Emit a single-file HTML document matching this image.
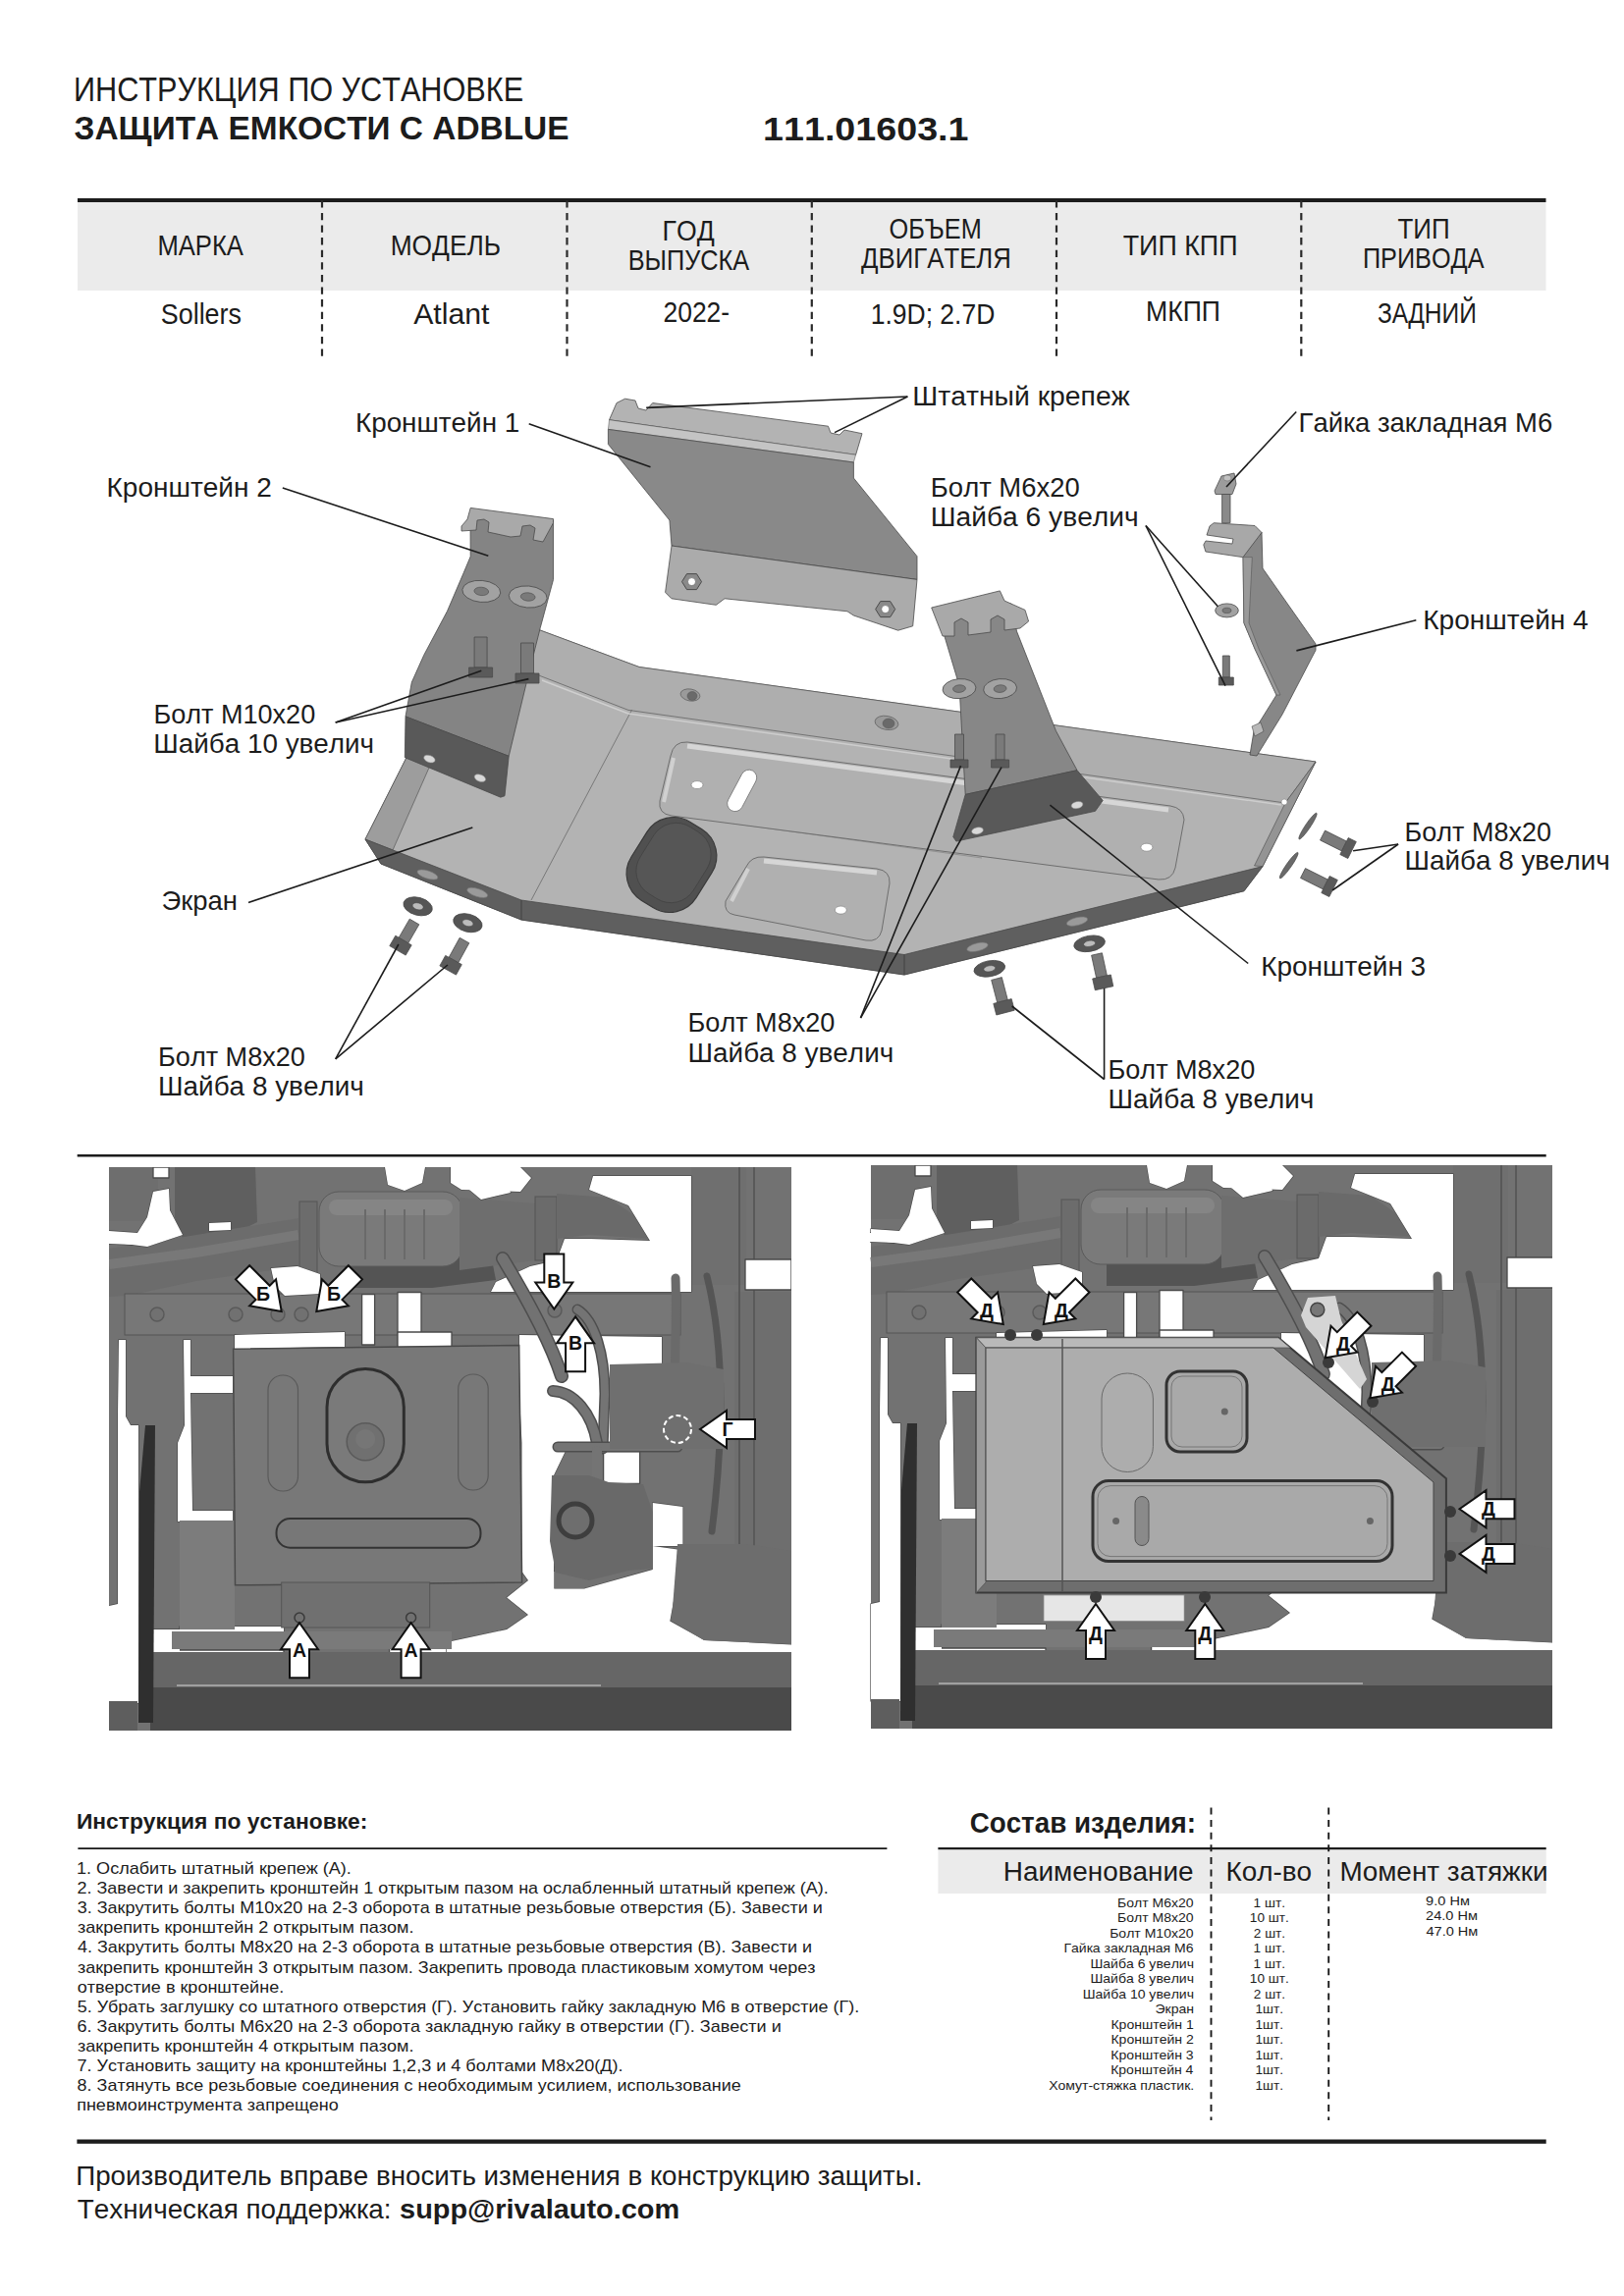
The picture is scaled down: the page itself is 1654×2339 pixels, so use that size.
<!DOCTYPE html>
<html><head><meta charset="utf-8"><style>
html,body{margin:0;padding:0;background:#fff;width:1654px;height:2339px;overflow:hidden;}
svg{display:block;font-family:"Liberation Sans",sans-serif;font-kerning:none;}
</style></head><body>
<svg width="1654" height="2339" viewBox="0 0 1654 2339">
<rect width="1654" height="2339" fill="#fff"/>
<text transform="translate(74.98,103.40) scale(0.8640,1.0)" font-size="35.5" fill="#1c1c1c">ИНСТРУКЦИЯ ПО УСТАНОВКЕ</text>
<text transform="translate(75.55,142.20) scale(0.9949,1.0)" font-size="33.6" font-weight="bold" fill="#1c1c1c">ЗАЩИТА ЕМКОСТИ С ADBLUE</text>
<text transform="translate(777.03,143.20) scale(1.1314,1.0)" font-size="33.3" font-weight="bold" fill="#1c1c1c">111.01603.1</text>
<rect x="79" y="205.5" width="1495.5" height="90.5" fill="#ebebeb"/>
<rect x="79" y="202" width="1495.5" height="4" fill="#1c1c1c"/>
<line x1="328" y1="204.3" x2="328" y2="363.5" stroke="#2a2a2a" stroke-width="2.2" stroke-dasharray="7.3,5.3"/>
<line x1="577.5" y1="204.3" x2="577.5" y2="363.5" stroke="#2a2a2a" stroke-width="2.2" stroke-dasharray="7.3,5.3"/>
<line x1="826.8" y1="204.3" x2="826.8" y2="363.5" stroke="#2a2a2a" stroke-width="2.2" stroke-dasharray="7.3,5.3"/>
<line x1="1076" y1="204.3" x2="1076" y2="363.5" stroke="#2a2a2a" stroke-width="2.2" stroke-dasharray="7.3,5.3"/>
<line x1="1325.3" y1="204.3" x2="1325.3" y2="363.5" stroke="#2a2a2a" stroke-width="2.2" stroke-dasharray="7.3,5.3"/>
<text transform="translate(160.40,260.20) scale(0.8837,1.0)" font-size="29" fill="#1c1c1c">МАРКА</text>
<text transform="translate(397.64,260.20) scale(0.9092,1.0)" font-size="29" fill="#1c1c1c">МОДЕЛЬ</text>
<text transform="translate(674.62,244.90) scale(0.9166,1.0)" font-size="29" fill="#1c1c1c">ГОД</text>
<text transform="translate(639.72,275.00) scale(0.8732,1.0)" font-size="29" fill="#1c1c1c">ВЫПУСКА</text>
<text transform="translate(905.60,242.70) scale(0.8716,1.0)" font-size="29" fill="#1c1c1c">ОБЪЕМ</text>
<text transform="translate(877.11,272.60) scale(0.8888,1.0)" font-size="29" fill="#1c1c1c">ДВИГАТЕЛЯ</text>
<text transform="translate(1143.70,259.80) scale(0.9269,1.0)" font-size="29" fill="#1c1c1c">ТИП КПП</text>
<text transform="translate(1423.52,242.70) scale(0.8945,1.0)" font-size="29" fill="#1c1c1c">ТИП</text>
<text transform="translate(1387.95,272.60) scale(0.8709,1.0)" font-size="29" fill="#1c1c1c">ПРИВОДА</text>
<text transform="translate(163.78,330.40) scale(0.9272,1.0)" font-size="29" fill="#1c1c1c">Sollers</text>
<text transform="translate(421.14,329.50) scale(1.0435,1.0)" font-size="29" fill="#1c1c1c">Atlant</text>
<text transform="translate(675.47,327.60) scale(0.9129,1.0)" font-size="29" fill="#1c1c1c">2022-</text>
<text transform="translate(886.68,329.50) scale(0.9139,1.0)" font-size="29" fill="#1c1c1c">1.9D; 2.7D</text>
<text transform="translate(1167.02,327.00) scale(0.9185,1.0)" font-size="29" fill="#1c1c1c">МКПП</text>
<text transform="translate(1403.00,328.90) scale(0.8471,1.0)" font-size="29" fill="#1c1c1c">ЗАДНИЙ</text>
<polygon points="480,612 550,642 651,679.5 1340,776 1286,882.6 1267,907.7 921,993 531,937 388,880 372,855 430,740" fill="#b3b3b3" stroke="#4a4a4a" stroke-width="0.8" stroke-linejoin="round"/>
<polygon points="480,612 550,642 651,679.5 1340,776 1309,818 640,723.4 550,688.5 480,660" fill="#aeaeae" stroke="#4a4a4a" stroke-width="0.6" stroke-linejoin="round"/>
<polygon points="372,855 430,740 452,748 400,866" fill="#9d9d9d" stroke="#4a4a4a" stroke-width="0.6" stroke-linejoin="round"/>
<polygon points="1340,776 1286,882.6 1277.5,882 1309,818" fill="#949494" stroke="#4a4a4a" stroke-width="0.6" stroke-linejoin="round"/>
<polygon points="372,855 531,917 921,972.5 1286,882.6 1267,907.7 921,993 531,937 388,880" fill="#5f5f5f" stroke="#4a4a4a" stroke-width="0.8" stroke-linejoin="round"/>
<line x1="531" y1="917" x2="531" y2="937" stroke="#3a3a3a" stroke-width="0.8"/>
<line x1="921" y1="972.5" x2="921" y2="993" stroke="#3a3a3a" stroke-width="0.8"/>
<line x1="643.6" y1="723" x2="541" y2="917" stroke="#6a6a6a" stroke-width="0.8"/>
<line x1="734" y1="837" x2="1000" y2="874" stroke="#7a7a7a" stroke-width="0.6"/>
<line x1="552" y1="693" x2="640" y2="727" stroke="#cfcfcf" stroke-width="1.5"/>
<line x1="640" y1="727" x2="1305" y2="820" stroke="#cdcdcd" stroke-width="1.5"/>
<path d="M700,756 L1192,821 Q1205,823 1206,835 L1197,884 Q1194,897 1180,896 L684,831 Q670,829 672,816 L683,770 Q686,755 700,756 Z" fill="#b0b0b0" stroke="#6e6e6e" stroke-width="1"/>
<path d="M700,760 L1190,825" stroke="#d6d6d6" stroke-width="5" fill="none"/>
<path d="M676,817 L686,772" stroke="#d0d0d0" stroke-width="4" fill="none"/>
<rect x="-23" y="-8" width="46" height="16" rx="8" fill="#fff" stroke="#777" stroke-width="0.8" transform="translate(755.7,805.4) rotate(-62)"/>
<ellipse cx="710" cy="799.6" rx="6" ry="4" fill="#fff" stroke="#777" stroke-width="0.6" transform="rotate(0,710,799.6)"/>
<ellipse cx="1167.9" cy="863.2" rx="6" ry="4" fill="#fff" stroke="#777" stroke-width="0.6" transform="rotate(0,1167.9,863.2)"/>
<ellipse cx="1308" cy="817" rx="3" ry="3" fill="#fff" stroke="#777" stroke-width="0.5" transform="rotate(0,1308,817)"/>
<path d="M778,873 L893,885 Q907,887 906,900 L898,948 Q895,960 882,958 L748,932 Q737,930 739,918 L760,883 Q765,872 778,873 Z" fill="#b0b0b0" stroke="#6e6e6e" stroke-width="1"/>
<path d="M778,877 L893,889" stroke="#d6d6d6" stroke-width="5" fill="none"/>
<path d="M745,918 L762,885" stroke="#d0d0d0" stroke-width="4" fill="none"/>
<ellipse cx="856.3" cy="927.1" rx="6" ry="4" fill="#fff" stroke="#777" stroke-width="0.6" transform="rotate(0,856.3,927.1)"/>
<ellipse cx="703" cy="708" rx="10" ry="6" fill="#9a9a9a" stroke="#666" stroke-width="0.8" transform="rotate(10,703,708)"/>
<ellipse cx="705" cy="709" rx="5" ry="4.5" fill="#6a6a6a" stroke="#555" stroke-width="0.5" transform="rotate(0,705,709)"/>
<ellipse cx="903" cy="736.4" rx="12" ry="7" fill="#9a9a9a" stroke="#666" stroke-width="0.8" transform="rotate(10,903,736.4)"/>
<ellipse cx="905" cy="737" rx="6" ry="5" fill="#6a6a6a" stroke="#555" stroke-width="0.5" transform="rotate(0,905,737)"/>
<rect x="-39" y="-47" width="78" height="94" rx="32" fill="#505050" stroke="#3a3a3a" stroke-width="1.2" transform="translate(684,881) rotate(32)"/>
<rect x="-32" y="-40" width="64" height="80" rx="27" fill="#565656" stroke="#444" stroke-width="0.8" transform="translate(686,879) rotate(32)"/>
<ellipse cx="435.4" cy="891" rx="11" ry="4" fill="#9a9a9a" stroke="#777" stroke-width="0.6" transform="rotate(18,435.4,891)"/>
<ellipse cx="486.2" cy="909.4" rx="11" ry="4" fill="#9a9a9a" stroke="#777" stroke-width="0.6" transform="rotate(18,486.2,909.4)"/>
<ellipse cx="995.5" cy="964.8" rx="11" ry="4" fill="#9a9a9a" stroke="#777" stroke-width="0.6" transform="rotate(-14,995.5,964.8)"/>
<ellipse cx="1097" cy="938.7" rx="11" ry="4" fill="#9a9a9a" stroke="#777" stroke-width="0.6" transform="rotate(-14,1097,938.7)"/>
<polygon points="479,526 563.5,530 563.5,590.6 550.3,639.4 536.3,695.1 518.2,770.3 413,729.9 419.3,695.1 431.8,667.2 455.5,622.6 472.2,583.6 479.2,566.9" fill="#848484" stroke="#4a4a4a" stroke-width="0.8" stroke-linejoin="round"/>
<polygon points="413,729.9 518.2,770.3 514,810.8 509.8,812.2 412.3,771.7" fill="#595959" stroke="#4a4a4a" stroke-width="0.8" stroke-linejoin="round"/>
<polygon points="479.2,517.4 563.5,528.6 563.5,532.7 553,552 543,550 545,538 540,535 532,536 530,546 520,547 497,542 498,532 493,529 486,530 485,540 470,541 470,536 476,529" fill="#a9a9a9" stroke="#4a4a4a" stroke-width="0.8" stroke-linejoin="round"/>
<ellipse cx="437.4" cy="773.1" rx="6" ry="3.5" fill="#d8d8d8" stroke="#888" stroke-width="0.5" transform="rotate(20,437.4,773.1)"/>
<ellipse cx="488.9" cy="792.6" rx="6" ry="3.5" fill="#d8d8d8" stroke="#888" stroke-width="0.5" transform="rotate(20,488.9,792.6)"/>
<ellipse cx="490.3" cy="602.4" rx="19.5" ry="11" fill="#a2a2a2" stroke="#4a4a4a" stroke-width="0.8" transform="rotate(5,490.3,602.4)"/>
<ellipse cx="490.3" cy="602.4" rx="7.41" ry="4.18" fill="#7a7a7a" stroke="#4a4a4a" stroke-width="0.6" transform="rotate(5,490.3,602.4)"/>
<ellipse cx="537.7" cy="608" rx="19.5" ry="11" fill="#a2a2a2" stroke="#4a4a4a" stroke-width="0.8" transform="rotate(5,537.7,608)"/>
<ellipse cx="537.7" cy="608" rx="7.41" ry="4.18" fill="#7a7a7a" stroke="#4a4a4a" stroke-width="0.6" transform="rotate(5,537.7,608)"/>
<polygon points="483.1,649.0 483.1,680.0 496.1,680.0 496.1,649.0" fill="#7a7a7a" stroke="#4a4a4a" stroke-width="0.8" stroke-linejoin="round"/>
<polygon points="477.6,680.0 477.6,690.0 501.6,690.0 501.6,680.0" fill="#5a5a5a" stroke="#4a4a4a" stroke-width="0.8" stroke-linejoin="round"/>
<polygon points="530.5,655.0 530.5,686.0 543.5,686.0 543.5,655.0" fill="#7a7a7a" stroke="#4a4a4a" stroke-width="0.8" stroke-linejoin="round"/>
<polygon points="525.0,686.0 525.0,696.0 549.0,696.0 549.0,686.0" fill="#5a5a5a" stroke="#4a4a4a" stroke-width="0.8" stroke-linejoin="round"/>
<polygon points="955,625 1030,615 1035.5,643.1 1075.5,744.7 1097,784.7 983.2,809.4 977,698.5" fill="#878787" stroke="#4a4a4a" stroke-width="0.8" stroke-linejoin="round"/>
<polygon points="983.2,809.4 1097,784.7 1123.2,815.5 1115.5,826.3 973.9,857.1 970.8,852.5" fill="#595959" stroke="#4a4a4a" stroke-width="0.8" stroke-linejoin="round"/>
<polygon points="948.7,619 1018.4,601.9 1023,612 1044,621.4 1047.6,633 1039,640 1023,642 1023,631 1016,627 1009,631 1009,644 986,647 986,634 979,630 972,634 972,648 960,648" fill="#a9a9a9" stroke="#4a4a4a" stroke-width="0.8" stroke-linejoin="round"/>
<ellipse cx="995.5" cy="846.3" rx="6" ry="3.5" fill="#d8d8d8" stroke="#888" stroke-width="0.5" transform="rotate(-12,995.5,846.3)"/>
<ellipse cx="1097" cy="820.1" rx="6" ry="3.5" fill="#d8d8d8" stroke="#888" stroke-width="0.5" transform="rotate(-12,1097,820.1)"/>
<ellipse cx="977" cy="701.6" rx="17" ry="10" fill="#a2a2a2" stroke="#4a4a4a" stroke-width="0.8" transform="rotate(-5,977,701.6)"/>
<ellipse cx="977" cy="701.6" rx="6.46" ry="3.8" fill="#7a7a7a" stroke="#4a4a4a" stroke-width="0.6" transform="rotate(-5,977,701.6)"/>
<ellipse cx="1018.6" cy="701.6" rx="17" ry="10" fill="#a2a2a2" stroke="#4a4a4a" stroke-width="0.8" transform="rotate(-5,1018.6,701.6)"/>
<ellipse cx="1018.6" cy="701.6" rx="6.46" ry="3.8" fill="#7a7a7a" stroke="#4a4a4a" stroke-width="0.6" transform="rotate(-5,1018.6,701.6)"/>
<polygon points="972.5,748.0 972.5,774.0 981.5,774.0 981.5,748.0" fill="#7a7a7a" stroke="#4a4a4a" stroke-width="0.8" stroke-linejoin="round"/>
<polygon points="968.0,774.0 968.0,782.0 986.0,782.0 986.0,774.0" fill="#5a5a5a" stroke="#4a4a4a" stroke-width="0.8" stroke-linejoin="round"/>
<polygon points="1014.1,748.0 1014.1,774.0 1023.1,774.0 1023.1,748.0" fill="#7a7a7a" stroke="#4a4a4a" stroke-width="0.8" stroke-linejoin="round"/>
<polygon points="1009.6,774.0 1009.6,782.0 1027.6,782.0 1027.6,774.0" fill="#5a5a5a" stroke="#4a4a4a" stroke-width="0.8" stroke-linejoin="round"/>
<polygon points="628,410.5 636.6,406.2 647,408 650,416 658,418 664.7,410.5 843.5,434.2 846,441 855,443 860,438 878,441.7 871.6,463.3 620.5,427.7" fill="#b3b3b3" stroke="#4a4a4a" stroke-width="0.8" stroke-linejoin="round"/>
<polygon points="620.5,427.7 871.6,463.3 869.4,471 619.4,437.4" fill="#c4c4c4" stroke="#4a4a4a" stroke-width="0.5" stroke-linejoin="round"/>
<polygon points="619.4,437.4 869.4,471 869.4,487 934,566.7 934,590.4 684,556 681.9,530 619.4,452.5" fill="#898989" stroke="#4a4a4a" stroke-width="0.8" stroke-linejoin="round"/>
<polygon points="684,556 934,590.4 929.7,637.8 914.7,642.2 869.4,627 863,622.8 738,609.8 729.3,616.3 684,609.8 677.6,603.4" fill="#ababab" stroke="#4a4a4a" stroke-width="0.8" stroke-linejoin="round"/>
<polygon points="694.5,592.6 699.5,584.6 709.5,584.6 714.5,592.6 709.5,600.6 699.5,600.6" fill="#8a8a8a" stroke="#4a4a4a" stroke-width="1"/>
<ellipse cx="704.5" cy="592.6" rx="4" ry="4" fill="#fff" stroke="#555" stroke-width="0.6" transform="rotate(0,704.5,592.6)"/>
<polygon points="891.7,620.6 896.7,612.6 906.7,612.6 911.7,620.6 906.7,628.6 896.7,628.6" fill="#8a8a8a" stroke="#4a4a4a" stroke-width="1"/>
<ellipse cx="901.7" cy="620.6" rx="4" ry="4" fill="#fff" stroke="#555" stroke-width="0.6" transform="rotate(0,901.7,620.6)"/>
<polygon points="1236.2,532.7 1278,535.5 1285,542.5 1275.3,567.6 1265.5,567.6 1227.9,562 1225.8,555 1228,551 1255,554 1256,549 1229,545 1232,536" fill="#a8a8a8" stroke="#4a4a4a" stroke-width="0.8" stroke-linejoin="round"/>
<polygon points="1266,567.6 1285,542.5 1286,579 1340,656 1340,662.3 1306,727.8 1280,770 1273,769 1277,745 1300,708 1278,661 1266.9,634.5" fill="#878787" stroke="#4a4a4a" stroke-width="0.8" stroke-linejoin="round"/>
<polygon points="1266,567.6 1275.3,567.6 1272,634.5 1282,661 1304,708 1300,708 1278,661 1266.9,634.5" fill="#9a9a9a" stroke="#4a4a4a" stroke-width="0.5" stroke-linejoin="round"/>
<polygon points="1275,740 1284,736 1287,745 1278,750" fill="#b8b8b8" stroke="#4a4a4a" stroke-width="0.6" stroke-linejoin="round"/>
<polygon points="1244.6,503.5 1253,503.5 1253,532.7 1244.6,532.7" fill="#8a8a8a" stroke="#4a4a4a" stroke-width="0.8" stroke-linejoin="round"/>
<polygon points="1237,500 1244,485 1257,482 1259,493 1255,503.5 1238,503.5" fill="#9c9c9c" stroke="#4a4a4a" stroke-width="0.8" stroke-linejoin="round"/>
<ellipse cx="1250" cy="487" rx="4" ry="3" fill="#c0c0c0" stroke="#666" stroke-width="0.5" transform="rotate(0,1250,487)"/>
<ellipse cx="1249.5" cy="621.9" rx="11.8" ry="7" fill="#a2a2a2" stroke="#4a4a4a" stroke-width="0.8" transform="rotate(0,1249.5,621.9)"/>
<ellipse cx="1249.5" cy="621.9" rx="4.484" ry="2.66" fill="#7a7a7a" stroke="#4a4a4a" stroke-width="0.6" transform="rotate(0,1249.5,621.9)"/>
<polygon points="1245.3,668.0 1245.3,690.0 1252.3,690.0 1252.3,668.0" fill="#7a7a7a" stroke="#4a4a4a" stroke-width="0.8" stroke-linejoin="round"/>
<polygon points="1241.3,690.0 1241.3,698.0 1256.3,698.0 1256.3,690.0" fill="#5a5a5a" stroke="#4a4a4a" stroke-width="0.8" stroke-linejoin="round"/>
<ellipse cx="425.6" cy="923.3" rx="15" ry="9" fill="#555" stroke="#4a4a4a" stroke-width="0.8" transform="rotate(15,425.6,923.3)"/>
<ellipse cx="425.6" cy="923.3" rx="5.7" ry="3.42" fill="#bbb" stroke="#4a4a4a" stroke-width="0.6" transform="rotate(15,425.6,923.3)"/>
<ellipse cx="476.4" cy="940.2" rx="15" ry="9" fill="#555" stroke="#4a4a4a" stroke-width="0.8" transform="rotate(15,476.4,940.2)"/>
<ellipse cx="476.4" cy="940.2" rx="5.7" ry="3.42" fill="#bbb" stroke="#4a4a4a" stroke-width="0.6" transform="rotate(15,476.4,940.2)"/>
<polygon points="417.2,936.2 406.2,955.2 415.8,960.8 426.8,941.8" fill="#7a7a7a" stroke="#4a4a4a" stroke-width="0.8" stroke-linejoin="round"/>
<polygon points="402.8,953.2 396.8,963.6 413.2,973.1 419.2,962.8" fill="#5a5a5a" stroke="#4a4a4a" stroke-width="0.8" stroke-linejoin="round"/>
<polygon points="468.2,955.3 457.2,975.3 466.8,980.7 477.8,960.7" fill="#7a7a7a" stroke="#4a4a4a" stroke-width="0.8" stroke-linejoin="round"/>
<polygon points="453.7,973.4 447.9,983.9 464.5,993.1 470.3,982.6" fill="#5a5a5a" stroke="#4a4a4a" stroke-width="0.8" stroke-linejoin="round"/>
<ellipse cx="1007.8" cy="986.8" rx="16" ry="8" fill="#555" stroke="#4a4a4a" stroke-width="0.8" transform="rotate(-10,1007.8,986.8)"/>
<ellipse cx="1007.8" cy="986.8" rx="6.08" ry="3.04" fill="#bbb" stroke="#4a4a4a" stroke-width="0.6" transform="rotate(-10,1007.8,986.8)"/>
<ellipse cx="1109.6" cy="961.3" rx="16" ry="8" fill="#555" stroke="#4a4a4a" stroke-width="0.8" transform="rotate(-10,1109.6,961.3)"/>
<ellipse cx="1109.6" cy="961.3" rx="6.08" ry="3.04" fill="#bbb" stroke="#4a4a4a" stroke-width="0.6" transform="rotate(-10,1109.6,961.3)"/>
<polygon points="1009.7,998.4 1015.7,1021.4 1026.3,1018.6 1020.3,995.6" fill="#7a7a7a" stroke="#4a4a4a" stroke-width="0.8" stroke-linejoin="round"/>
<polygon points="1011.8,1022.4 1014.8,1034.0 1033.2,1029.2 1030.2,1017.6" fill="#5a5a5a" stroke="#4a4a4a" stroke-width="0.8" stroke-linejoin="round"/>
<polygon points="1111.6,973.2 1116.6,996.2 1127.4,993.8 1122.4,970.8" fill="#7a7a7a" stroke="#4a4a4a" stroke-width="0.8" stroke-linejoin="round"/>
<polygon points="1112.7,997.0 1115.3,1008.7 1133.8,1004.7 1131.3,993.0" fill="#5a5a5a" stroke="#4a4a4a" stroke-width="0.8" stroke-linejoin="round"/>
<ellipse cx="1332" cy="841.6" rx="16" ry="2.6" fill="#6a6a6a" stroke="#444" stroke-width="0.6" transform="rotate(-56,1332,841.6)"/>
<ellipse cx="1312.7" cy="881.6" rx="16" ry="2.6" fill="#6a6a6a" stroke="#444" stroke-width="0.6" transform="rotate(-55,1312.7,881.6)"/>
<polygon points="1344.5,855.9 1366.5,866.9 1371.5,857.1 1349.5,846.1" fill="#7a7a7a" stroke="#4a4a4a" stroke-width="0.8" stroke-linejoin="round"/>
<polygon points="1364.8,870.5 1372.8,874.5 1381.3,857.5 1373.2,853.5" fill="#5a5a5a" stroke="#4a4a4a" stroke-width="0.8" stroke-linejoin="round"/>
<polygon points="1324.5,894.4 1347.5,905.9 1352.5,896.1 1329.5,884.6" fill="#7a7a7a" stroke="#4a4a4a" stroke-width="0.8" stroke-linejoin="round"/>
<polygon points="1345.8,909.5 1353.8,913.5 1362.3,896.5 1354.2,892.5" fill="#5a5a5a" stroke="#4a4a4a" stroke-width="0.8" stroke-linejoin="round"/>
<line x1="924.4" y1="404" x2="658.2" y2="415.4" stroke="#1c1c1c" stroke-width="1.6"/>
<line x1="924.4" y1="404" x2="850" y2="440.6" stroke="#1c1c1c" stroke-width="1.6"/>
<line x1="538.7" y1="431.7" x2="662.5" y2="475.8" stroke="#1c1c1c" stroke-width="1.6"/>
<line x1="287.8" y1="497" x2="497.3" y2="566.2" stroke="#1c1c1c" stroke-width="1.6"/>
<line x1="1320.2" y1="419.5" x2="1249" y2="496" stroke="#1c1c1c" stroke-width="1.6"/>
<line x1="1167" y1="535.5" x2="1240.4" y2="617.7" stroke="#1c1c1c" stroke-width="1.6"/>
<line x1="1167" y1="535.5" x2="1248" y2="698.6" stroke="#1c1c1c" stroke-width="1.6"/>
<line x1="1442.3" y1="631.8" x2="1320.4" y2="662.9" stroke="#1c1c1c" stroke-width="1.6"/>
<line x1="341.7" y1="736" x2="490.3" y2="683.3" stroke="#1c1c1c" stroke-width="1.6"/>
<line x1="341.7" y1="736" x2="538.4" y2="691.6" stroke="#1c1c1c" stroke-width="1.6"/>
<line x1="1424.1" y1="860" x2="1378.1" y2="866.7" stroke="#1c1c1c" stroke-width="1.6"/>
<line x1="1424.1" y1="860" x2="1357" y2="907" stroke="#1c1c1c" stroke-width="1.6"/>
<line x1="253" y1="919.4" x2="481.3" y2="843.1" stroke="#1c1c1c" stroke-width="1.6"/>
<line x1="1271.2" y1="981.5" x2="1069.4" y2="820.1" stroke="#1c1c1c" stroke-width="1.6"/>
<line x1="876.5" y1="1037" x2="978.5" y2="780.1" stroke="#1c1c1c" stroke-width="1.6"/>
<line x1="876.5" y1="1037" x2="1020" y2="781.6" stroke="#1c1c1c" stroke-width="1.6"/>
<line x1="341.7" y1="1078.9" x2="405.9" y2="962" stroke="#1c1c1c" stroke-width="1.6"/>
<line x1="341.7" y1="1078.9" x2="455.9" y2="983" stroke="#1c1c1c" stroke-width="1.6"/>
<line x1="1124.6" y1="1099.5" x2="1124.6" y2="1006.7" stroke="#1c1c1c" stroke-width="1.6"/>
<line x1="1124.6" y1="1099.5" x2="1030.7" y2="1025" stroke="#1c1c1c" stroke-width="1.6"/>
<text transform="translate(929.27,412.50) scale(1.0127,1.0)" font-size="28" fill="#1c1c1c">Штатный крепеж</text>
<text transform="translate(361.91,440.30) scale(0.9953,1.0)" font-size="28" fill="#1c1c1c">Кронштейн 1</text>
<text transform="translate(1322.55,440.40) scale(0.9811,1.0)" font-size="28" fill="#1c1c1c">Гайка закладная М6</text>
<text transform="translate(108.50,505.60) scale(1.0010,1.0)" font-size="28" fill="#1c1c1c">Кронштейн 2</text>
<text transform="translate(947.85,506.30) scale(0.9806,1.0)" font-size="28" fill="#1c1c1c">Болт М6х20</text>
<text transform="translate(947.79,535.50) scale(1.0059,1.0)" font-size="28" fill="#1c1c1c">Шайба 6 увелич</text>
<text transform="translate(1449.20,640.50) scale(1.0017,1.0)" font-size="28" fill="#1c1c1c">Кронштейн 4</text>
<text transform="translate(156.38,736.50) scale(0.9670,1.0)" font-size="28" fill="#1c1c1c">Болт М10х20</text>
<text transform="translate(156.32,766.80) scale(0.9939,1.0)" font-size="28" fill="#1c1c1c">Шайба 10 увелич</text>
<text transform="translate(1430.59,856.70) scale(0.9641,1.0)" font-size="28" fill="#1c1c1c">Болт М8х20</text>
<text transform="translate(1430.52,886.00) scale(0.9943,1.0)" font-size="28" fill="#1c1c1c">Шайба 8 увелич</text>
<text transform="translate(164.49,926.60) scale(0.9814,1.0)" font-size="28" fill="#1c1c1c">Экран</text>
<text transform="translate(1284.21,994.30) scale(0.9988,1.0)" font-size="28" fill="#1c1c1c">Кронштейн 3</text>
<text transform="translate(700.58,1051.20) scale(0.9674,1.0)" font-size="28" fill="#1c1c1c">Болт М8х20</text>
<text transform="translate(700.51,1081.50) scale(0.9958,1.0)" font-size="28" fill="#1c1c1c">Шайба 8 увелич</text>
<text transform="translate(161.08,1086.10) scale(0.9674,1.0)" font-size="28" fill="#1c1c1c">Болт М8х20</text>
<text transform="translate(161.01,1115.90) scale(0.9962,1.0)" font-size="28" fill="#1c1c1c">Шайба 8 увелич</text>
<text transform="translate(1128.58,1099.00) scale(0.9667,1.0)" font-size="28" fill="#1c1c1c">Болт М8х20</text>
<text transform="translate(1128.51,1129.30) scale(0.9967,1.0)" font-size="28" fill="#1c1c1c">Шайба 8 увелич</text>
<rect x="78.7" y="1176" width="1496" height="2.5" fill="#1c1c1c"/>
<defs><clipPath id="c1"><rect x="111" y="1189" width="695" height="578"/></clipPath><clipPath id="c2"><rect x="886" y="1187" width="695" height="578"/></clipPath><g id="pbg"><rect x="111" y="1189" width="695" height="574" fill="#727272"/>
<rect x="111" y="1189" width="50" height="55" fill="#6e6e6e"/>
<polygon points="178,1189 260,1189 262,1245 240,1256 186,1262 178,1240" fill="#5f5f5f"/>
<polygon points="111,1272 200,1258 304,1241 304,1290 200,1305 130,1320 111,1321" fill="#6c6c6c"/>
<path d="M111,1288 L200,1276 L304,1258" stroke="#787878" stroke-width="10" fill="none"/>
<polygon points="351,1282 500,1278 505,1304 440,1312 351,1312" fill="#545454"/>
<rect x="305" y="1224" width="18" height="74" fill="#6c6c6c" stroke="#555" stroke-width="1"/>
<rect x="325" y="1214" width="146" height="76" rx="20" fill="#7a7a7a" stroke="#5a5a5a" stroke-width="1"/>
<rect x="335" y="1222" width="126" height="16" rx="8" fill="#858585"/>
<line x1="372" y1="1232" x2="372" y2="1283" stroke="#6a6a6a" stroke-width="2"/>
<line x1="392" y1="1232" x2="392" y2="1283" stroke="#6a6a6a" stroke-width="2"/>
<line x1="412" y1="1232" x2="412" y2="1283" stroke="#6a6a6a" stroke-width="2"/>
<line x1="432" y1="1232" x2="432" y2="1283" stroke="#6a6a6a" stroke-width="2"/>
<polygon points="468,1220 545,1226 545,1284 468,1294" fill="#6e6e6e"/>
<rect x="545" y="1219" width="22" height="65" fill="#6b6b6b" stroke="#555" stroke-width="1"/>
<polygon points="567,1216 620,1220 660,1248 662,1262 600,1258 567,1262" fill="#6a6a6a"/>
<rect x="127" y="1318" width="566" height="42" fill="#777777" stroke="#555" stroke-width="1"/>
<circle cx="160" cy="1339" r="7" fill="#717171" stroke="#5a5a5a" stroke-width="1.5"/>
<circle cx="240" cy="1339" r="7" fill="#717171" stroke="#5a5a5a" stroke-width="1.5"/>
<circle cx="283" cy="1339" r="7" fill="#717171" stroke="#5a5a5a" stroke-width="1.5"/>
<circle cx="307" cy="1339" r="7" fill="#717171" stroke="#5a5a5a" stroke-width="1.5"/>
<circle cx="413" cy="1339" r="7" fill="#717171" stroke="#5a5a5a" stroke-width="1.5"/>
<circle cx="565" cy="1335" r="7" fill="#717171" stroke="#5a5a5a" stroke-width="1.5"/>
<rect x="704" y="1189" width="56" height="120" fill="#6f6f6f"/>
<rect x="748" y="1316" width="58" height="360" fill="#6e6e6e"/>
<line x1="753" y1="1189" x2="753" y2="1675" stroke="#585858" stroke-width="2"/>
<line x1="768" y1="1189" x2="768" y2="1675" stroke="#5a5a5a" stroke-width="2"/>
<polygon points="111,1254 140,1256 150,1240 156,1214 172,1211 173,1233 186,1258 150,1270 111,1265" fill="#ffffff" stroke="#4a4a4a" stroke-width="1.3" stroke-linejoin="round"/>
<rect x="156" y="1189" width="16" height="11" fill="#ffffff" stroke="#4a4a4a" stroke-width="1.3" stroke-linejoin="round"/>
<polygon points="392,1189 433,1189 430,1205 412,1213 395,1207" fill="#ffffff" stroke="#4a4a4a" stroke-width="1.3" stroke-linejoin="round"/>
<polygon points="276,1292 303,1290 326,1298 326,1318 290,1320 280,1310" fill="#ffffff" stroke="#4a4a4a" stroke-width="1.3" stroke-linejoin="round"/>
<polygon points="213,1246 235,1245 235,1253 213,1254" fill="#ffffff" stroke="#4a4a4a" stroke-width="1.3" stroke-linejoin="round"/>
<polygon points="239,1360 351,1357 351,1372 239,1374" fill="#ffffff" stroke="#4a4a4a" stroke-width="1.3" stroke-linejoin="round"/>
<rect x="368.6" y="1318.6" width="13" height="51.4" fill="#ffffff" stroke="#4a4a4a" stroke-width="1.3" stroke-linejoin="round"/>
<rect x="405" y="1316.5" width="24" height="56" fill="#ffffff" stroke="#4a4a4a" stroke-width="1.3" stroke-linejoin="round"/>
<rect x="405" y="1357" width="55" height="15.5" fill="#ffffff" stroke="#4a4a4a" stroke-width="1.3" stroke-linejoin="round"/>
<polygon points="121,1365 128,1365 128,1443 133,1452 141,1452 141,1735 111,1735 111,1636 120,1634 120,1443" fill="#ffffff" stroke="#4a4a4a" stroke-width="1.3" stroke-linejoin="round"/>
<polygon points="187,1365 194,1365 194,1402 237,1402 237,1419 194,1419 196,1539 237,1539 237,1549 181,1550 181,1470 188,1452" fill="#ffffff" stroke="#4a4a4a" stroke-width="1.3" stroke-linejoin="round"/>
<polygon points="155,1660 183,1660 183,1657 289,1657 289,1664 183,1664 183,1683 155,1683" fill="#ffffff" stroke="#4a4a4a" stroke-width="1.3" stroke-linejoin="round"/>
<rect x="155" y="1681" width="134" height="5" fill="#ffffff" stroke="#4a4a4a" stroke-width="1.3" stroke-linejoin="round"/>
<rect x="396.6" y="1679" width="63.4" height="6.5" fill="#ffffff" stroke="#4a4a4a" stroke-width="1.3" stroke-linejoin="round"/>
<polygon points="478,1192 510,1192 520,1215 490,1222 478,1212" fill="#ffffff" stroke="#4a4a4a" stroke-width="1.3" stroke-linejoin="round"/>
<polygon points="505,1306 540,1290 567,1284 575,1262 600,1262 662,1264 640,1228 600,1212 604,1198 704,1198 704,1316 500,1316" fill="#ffffff" stroke="#4a4a4a" stroke-width="1.3" stroke-linejoin="round"/>
<polygon points="459,1189 530,1189 541,1200 530,1214 470,1212 459,1205" fill="#ffffff" stroke="#4a4a4a" stroke-width="1.3" stroke-linejoin="round"/>
<polygon points="110,1258 136,1258 136,1268 110,1267" fill="#ffffff" stroke="#4a4a4a" stroke-width="1.3" stroke-linejoin="round"/>
<rect x="759" y="1283" width="47" height="31" fill="#ffffff" stroke="#4a4a4a" stroke-width="1.3" stroke-linejoin="round"/>
<polygon points="529,1360 674,1362 674,1395 621,1403 621,1476 577,1476 564,1503 564,1601 531.5,1601 531.5,1470 529,1420" fill="#ffffff" stroke="#4a4a4a" stroke-width="1.3" stroke-linejoin="round"/>
<rect x="614.6" y="1478.7" width="37" height="32.8" fill="#ffffff" stroke="#4a4a4a" stroke-width="1.3" stroke-linejoin="round"/>
<polygon points="664.8,1531 695.4,1535 695.4,1575 664.8,1575" fill="#ffffff" stroke="#4a4a4a" stroke-width="1.3" stroke-linejoin="round"/>
<polygon points="531.5,1601 564.3,1601 564.3,1618.6 595,1618.6 664.8,1599 664.8,1575 695.4,1579.3 682.3,1651.4 717.3,1671 806,1675.5 806,1683 455,1683 455,1673 516.2,1660 538,1645 516.2,1627.4 538,1610" fill="#ffffff" stroke="#4a4a4a" stroke-width="1.3" stroke-linejoin="round"/>
<polygon points="111,1254 140,1256 150,1240 156,1214 172,1211 173,1233 186,1258 150,1270 111,1265" fill="#ffffff"/>
<polygon points="392,1189 433,1189 430,1205 412,1213 395,1207" fill="#ffffff"/>
<polygon points="276,1292 303,1290 326,1298 326,1318 290,1320 280,1310" fill="#ffffff"/>
<polygon points="213,1246 235,1245 235,1253 213,1254" fill="#ffffff"/>
<polygon points="239,1360 351,1357 351,1372 239,1374" fill="#ffffff"/>
<polygon points="121,1365 128,1365 128,1443 133,1452 141,1452 141,1735 111,1735 111,1636 120,1634 120,1443" fill="#ffffff"/>
<polygon points="187,1365 194,1365 194,1402 237,1402 237,1419 194,1419 196,1539 237,1539 237,1549 181,1550 181,1470 188,1452" fill="#ffffff"/>
<polygon points="155,1660 183,1660 183,1657 289,1657 289,1664 183,1664 183,1683 155,1683" fill="#ffffff"/>
<polygon points="478,1192 510,1192 520,1215 490,1222 478,1212" fill="#ffffff"/>
<polygon points="505,1306 540,1290 567,1284 575,1262 600,1262 662,1264 640,1228 600,1212 604,1198 704,1198 704,1316 500,1316" fill="#ffffff"/>
<polygon points="459,1189 530,1189 541,1200 530,1214 470,1212 459,1205" fill="#ffffff"/>
<polygon points="110,1258 136,1258 136,1268 110,1267" fill="#ffffff"/>
<polygon points="529,1360 674,1362 674,1395 621,1403 621,1476 577,1476 564,1503 564,1601 531.5,1601 531.5,1470 529,1420" fill="#ffffff"/>
<polygon points="664.8,1531 695.4,1535 695.4,1575 664.8,1575" fill="#ffffff"/>
<polygon points="531.5,1601 564.3,1601 564.3,1618.6 595,1618.6 664.8,1599 664.8,1575 695.4,1579.3 682.3,1651.4 717.3,1671 806,1675.5 806,1683 455,1683 455,1673 516.2,1660 538,1645 516.2,1627.4 538,1610" fill="#ffffff"/>
<path d="M512,1282 C535,1320 560,1365 572,1402" stroke="#4e4e4e" stroke-width="14" fill="none" stroke-linecap="round"/>
<path d="M512,1282 C535,1320 560,1365 572,1402" stroke="#727272" stroke-width="11" fill="none" stroke-linecap="round"/>
<path d="M588,1334 C606,1345 616,1380 616,1420 L614,1476" stroke="#4e4e4e" stroke-width="11" fill="none" stroke-linecap="round"/>
<path d="M588,1334 C606,1345 616,1380 616,1420 L614,1476" stroke="#747474" stroke-width="8" fill="none" stroke-linecap="round"/>
<path d="M563,1417 C585,1418 603,1440 608,1470" stroke="#4e4e4e" stroke-width="12" fill="none" stroke-linecap="round"/>
<path d="M563,1417 C585,1418 603,1440 608,1470" stroke="#747474" stroke-width="9" fill="none" stroke-linecap="round"/>
<path d="M568,1474 L690,1474" stroke="#4e4e4e" stroke-width="11" fill="none" stroke-linecap="round"/>
<path d="M568,1474 L690,1474" stroke="#747474" stroke-width="8" fill="none" stroke-linecap="round"/>
<path d="M608,1478 L608,1506" stroke="#747474" stroke-width="10" fill="none" stroke-linecap="round"/>
<path d="M688,1302 C690,1360 684,1420 690,1470" stroke="#6a6a6a" stroke-width="9" fill="none" stroke-linecap="round"/>
<path d="M720,1300 C740,1380 735,1480 725,1560" stroke="#555" stroke-width="7" fill="none" stroke-linecap="round"/>
<polygon points="621,1390 700,1388 737,1395 737,1476 621,1476" fill="#6f6f6f"/>
<polygon points="562,1503 600,1503 620,1510 655,1512 664.8,1540 664.8,1598 640,1600 600,1610 566,1602 560,1570" fill="#696969"/>
<circle cx="586" cy="1549" r="17" fill="#6e6e6e" stroke="#3e3e3e" stroke-width="5"/>
<polygon points="690,1573 760,1573 806,1580 806,1675 717,1671 684,1651" fill="#6d6d6d"/>
<rect x="183" y="1549" width="56" height="111" fill="#7c7c7c"/>
<rect x="175" y="1662" width="285" height="18" fill="#7a7a7a"/>
<rect x="153" y="1683" width="653" height="36" fill="#666666"/>
<rect x="153" y="1719" width="653" height="44" fill="#4a4a4a"/>
<line x1="180" y1="1717" x2="612" y2="1717" stroke="#a0a0a0" stroke-width="2"/>
<polygon points="111,1733 140,1733 140,1763 111,1763" fill="#5e5e5e"/>
<polygon points="148,1452 158,1452 156,1755 141,1755 142,1520" fill="#2f2f2f"/></g></defs>
<g clip-path="url(#c1)"><use href="#pbg"/>
<polygon points="237.6,1374.3 528.7,1370.5 531.6,1612 239.5,1614.8" fill="#787878" stroke="#4a4a4a" stroke-width="1.5"/>
<rect x="286.7" y="1612" width="151" height="46" fill="#707070" stroke="#555" stroke-width="1"/>
<rect x="273" y="1401" width="30.5" height="118" rx="15" fill="none" stroke="#5a5a5a" stroke-width="1.2"/>
<rect x="466.7" y="1400" width="30.5" height="118" rx="15" fill="none" stroke="#5a5a5a" stroke-width="1.2"/>
<rect x="333" y="1394.4" width="78.3" height="115.4" rx="39" fill="#7a7a7a" stroke="#2e2e2e" stroke-width="3"/>
<circle cx="372.2" cy="1468.8" r="19" fill="#707070" stroke="#5a5a5a" stroke-width="1.5"/>
<circle cx="372.2" cy="1466" r="10" fill="#767676"/>
<rect x="281.5" y="1547" width="208" height="29.7" rx="14" fill="#777" stroke="#333" stroke-width="2"/>
<circle cx="305" cy="1648" r="5" fill="none" stroke="#3a3a3a" stroke-width="1.5"/>
<circle cx="418.6" cy="1648" r="5" fill="none" stroke="#3a3a3a" stroke-width="1.5"/>
</g>
<path d="M0,0 L-27,-19 L-27,-10 L-56,-10 L-56,10 L-27,10 L-27,19 Z" fill="#fff" stroke="#111" stroke-width="2" stroke-linejoin="miter" transform="translate(286.7,1335.9) rotate(45)"/>
<text x="268" y="1325.0" font-size="19.5" font-weight="bold" text-anchor="middle" fill="#111">Б</text>
<path d="M0,0 L-27,-19 L-27,-10 L-56,-10 L-56,10 L-27,10 L-27,19 Z" fill="#fff" stroke="#111" stroke-width="2" stroke-linejoin="miter" transform="translate(322.3,1335.9) rotate(135)"/>
<text x="340" y="1325.0" font-size="19.5" font-weight="bold" text-anchor="middle" fill="#111">Б</text>
<path d="M0,0 L-27,-19 L-27,-10 L-56,-10 L-56,10 L-27,10 L-27,19 Z" fill="#fff" stroke="#111" stroke-width="2" stroke-linejoin="miter" transform="translate(564.3,1333.6) rotate(90)"/>
<text x="564.3" y="1312.0" font-size="19.5" font-weight="bold" text-anchor="middle" fill="#111">В</text>
<path d="M0,0 L-27,-19 L-27,-10 L-56,-10 L-56,10 L-27,10 L-27,19 Z" fill="#fff" stroke="#111" stroke-width="2" stroke-linejoin="miter" transform="translate(586.1,1341.3) rotate(-90)"/>
<text x="586.1" y="1375.0" font-size="19.5" font-weight="bold" text-anchor="middle" fill="#111">В</text>
<path d="M0,0 L-27,-19 L-27,-10 L-56,-10 L-56,10 L-27,10 L-27,19 Z" fill="#fff" stroke="#111" stroke-width="2" stroke-linejoin="miter" transform="translate(713,1456) rotate(180)"/>
<text x="741" y="1463.0" font-size="19.5" font-weight="bold" text-anchor="middle" fill="#111">Г</text>
<path d="M0,0 L-27,-19 L-27,-10 L-56,-10 L-56,10 L-27,10 L-27,19 Z" fill="#fff" stroke="#111" stroke-width="2" stroke-linejoin="miter" transform="translate(305,1653.2) rotate(-90)"/>
<text x="305" y="1688.0" font-size="19.5" font-weight="bold" text-anchor="middle" fill="#111">А</text>
<path d="M0,0 L-27,-19 L-27,-10 L-56,-10 L-56,10 L-27,10 L-27,19 Z" fill="#fff" stroke="#111" stroke-width="2" stroke-linejoin="miter" transform="translate(418.6,1653.2) rotate(-90)"/>
<text x="418.6" y="1688.0" font-size="19.5" font-weight="bold" text-anchor="middle" fill="#111">А</text>
<circle cx="690" cy="1456" r="14" fill="none" stroke="#fff" stroke-width="2" stroke-dasharray="5,3"/>
<g clip-path="url(#c2)"><use href="#pbg" transform="translate(776,-2)"/>
<polygon points="994.4,1362.8 1302,1362.8 1472.9,1506.3 1472.9,1622.5 994.4,1622.5" fill="#6e6e6e" stroke="#3a3a3a" stroke-width="2"/>
<polygon points="994.4,1362.8 1302,1362.8 1314,1373 1004,1373" fill="#b9b9b9" stroke="#555" stroke-width="0.8"/>
<polygon points="994.4,1362.8 1004,1373 1004,1612 994.4,1622.5" fill="#9a9a9a" stroke="#555" stroke-width="0.8"/>
<polygon points="1004,1373 1297,1373 1460,1510 1460,1610.5 1004,1610.5" fill="#adadad" stroke="#444" stroke-width="1"/>
<line x1="1082" y1="1364" x2="1082" y2="1621" stroke="#555" stroke-width="1.5"/>
<rect x="1122" y="1399" width="52.4" height="100.5" rx="26" fill="none" stroke="#6a6a6a" stroke-width="1"/>
<rect x="1188" y="1397" width="82" height="82" rx="14" fill="#a9a9a9" stroke="#333" stroke-width="3"/>
<rect x="1193" y="1402" width="72" height="72" rx="11" fill="none" stroke="#777" stroke-width="1"/>
<circle cx="1247.3" cy="1438" r="3.5" fill="#666"/>
<rect x="1113" y="1508.6" width="305" height="82" rx="16" fill="#a9a9a9" stroke="#333" stroke-width="3"/>
<rect x="1118" y="1513.6" width="295" height="72" rx="13" fill="none" stroke="#777" stroke-width="1"/>
<rect x="1156" y="1524.5" width="14" height="50" rx="7" fill="#8a8a8a" stroke="#555" stroke-width="1"/>
<circle cx="1136.6" cy="1549.6" r="3.5" fill="#666"/>
<circle cx="1395.4" cy="1549.6" r="3.5" fill="#666"/>
<rect x="1062.8" y="1624.8" width="143.5" height="27" fill="#e6e6e6" stroke="#777" stroke-width="1"/>
<g fill="#3a3a3a">
<circle cx="1029" cy="1360" r="6"/><circle cx="1056" cy="1360" r="6"/>
<circle cx="1116" cy="1627" r="6"/><circle cx="1227" cy="1627" r="6"/>
<circle cx="1477" cy="1540" r="6"/><circle cx="1477" cy="1585" r="6"/>
<circle cx="1353" cy="1388" r="6"/><circle cx="1398" cy="1428" r="6"/>
</g>
<polygon points="1325,1340 1332,1322 1360,1320 1366,1345 1392,1405 1385,1415 1330,1352" fill="#d5d5d5"/>
<circle cx="1341.8" cy="1334.2" r="7" fill="#777" stroke="#444" stroke-width="1.5"/>
</g>
<path d="M0,0 L-27,-19 L-27,-10 L-56,-10 L-56,10 L-27,10 L-27,19 Z" fill="#fff" stroke="#111" stroke-width="2" stroke-linejoin="miter" transform="translate(1021.8,1349.1) rotate(45)"/>
<text x="1004.9" y="1342.4" font-size="19.5" font-weight="bold" text-anchor="middle" fill="#111">Д</text>
<path d="M0,0 L-27,-19 L-27,-10 L-56,-10 L-56,10 L-27,10 L-27,19 Z" fill="#fff" stroke="#111" stroke-width="2" stroke-linejoin="miter" transform="translate(1062.8,1349.1) rotate(135)"/>
<text x="1081" y="1342.4" font-size="19.5" font-weight="bold" text-anchor="middle" fill="#111">Д</text>
<path d="M0,0 L-27,-19 L-27,-10 L-56,-10 L-56,10 L-27,10 L-27,19 Z" fill="#fff" stroke="#111" stroke-width="2" stroke-linejoin="miter" transform="translate(1349.8,1383.3) rotate(135)"/>
<text x="1368" y="1375.7" font-size="19.5" font-weight="bold" text-anchor="middle" fill="#111">Д</text>
<path d="M0,0 L-27,-19 L-27,-10 L-56,-10 L-56,10 L-27,10 L-27,19 Z" fill="#fff" stroke="#111" stroke-width="2" stroke-linejoin="miter" transform="translate(1395.4,1424.3) rotate(135)"/>
<text x="1413.6" y="1416.7" font-size="19.5" font-weight="bold" text-anchor="middle" fill="#111">Д</text>
<path d="M0,0 L-27,-19 L-27,-10 L-56,-10 L-56,10 L-27,10 L-27,19 Z" fill="#fff" stroke="#111" stroke-width="2" stroke-linejoin="miter" transform="translate(1486.5,1537.3) rotate(180)"/>
<text x="1516" y="1544.3" font-size="19.5" font-weight="bold" text-anchor="middle" fill="#111">Д</text>
<path d="M0,0 L-27,-19 L-27,-10 L-56,-10 L-56,10 L-27,10 L-27,19 Z" fill="#fff" stroke="#111" stroke-width="2" stroke-linejoin="miter" transform="translate(1486.5,1582.9) rotate(180)"/>
<text x="1516" y="1589.9" font-size="19.5" font-weight="bold" text-anchor="middle" fill="#111">Д</text>
<path d="M0,0 L-27,-19 L-27,-10 L-56,-10 L-56,10 L-27,10 L-27,19 Z" fill="#fff" stroke="#111" stroke-width="2" stroke-linejoin="miter" transform="translate(1116,1634) rotate(-90)"/>
<text x="1116" y="1670.5" font-size="19.5" font-weight="bold" text-anchor="middle" fill="#111">Д</text>
<path d="M0,0 L-27,-19 L-27,-10 L-56,-10 L-56,10 L-27,10 L-27,19 Z" fill="#fff" stroke="#111" stroke-width="2" stroke-linejoin="miter" transform="translate(1227.3,1634) rotate(-90)"/>
<text x="1227.3" y="1670.5" font-size="19.5" font-weight="bold" text-anchor="middle" fill="#111">Д</text>
<text transform="translate(77.88,1862.50) scale(1.0622,1.0)" font-size="21.5" font-weight="bold" fill="#1c1c1c">Инструкция по установке:</text>
<rect x="79.4" y="1882.2" width="824" height="1.8" fill="#1c1c1c"/>
<text transform="translate(78.02,1908.80) scale(1.1296,1.0)" font-size="16" fill="#1c1c1c">1. Ослабить штатный крепеж (А).</text>
<text transform="translate(78.49,1928.94) scale(1.1253,1.0)" font-size="16" fill="#1c1c1c">2. Завести и закрепить кронштейн 1 открытым пазом на ослабленный штатный крепеж (А).</text>
<text transform="translate(78.71,1949.08) scale(1.1248,1.0)" font-size="16" fill="#1c1c1c">3. Закрутить болты М10х20 на 2-3 оборота в штатные резьбовые отверстия (Б). Завести и</text>
<text transform="translate(78.97,1969.22) scale(1.1267,1.0)" font-size="16" fill="#1c1c1c">закрепить кронштейн 2 открытым пазом.</text>
<text transform="translate(78.99,1989.36) scale(1.1232,1.0)" font-size="16" fill="#1c1c1c">4. Закрутить болты М8х20 на 2-3 оборота в штатные резьбовые отверстия (В). Завести и</text>
<text transform="translate(78.97,2009.50) scale(1.1251,1.0)" font-size="16" fill="#1c1c1c">закрепить кронштейн 3 открытым пазом. Закрепить провода пластиковым хомутом через</text>
<text transform="translate(78.64,2029.64) scale(1.1280,1.0)" font-size="16" fill="#1c1c1c">отверстие в кронштейне.</text>
<text transform="translate(78.68,2049.78) scale(1.1227,1.0)" font-size="16" fill="#1c1c1c">5. Убрать заглушку со штатного отверстия (Г). Установить гайку закладную М6 в отверстие (Г).</text>
<text transform="translate(78.48,2069.92) scale(1.1266,1.0)" font-size="16" fill="#1c1c1c">6. Закрутить болты М6х20 на 2-3 оборота закладную гайку в отверстии (Г). Завести и</text>
<text transform="translate(78.97,2090.06) scale(1.1267,1.0)" font-size="16" fill="#1c1c1c">закрепить кронштейн 4 открытым пазом.</text>
<text transform="translate(78.47,2110.20) scale(1.1296,1.0)" font-size="16" fill="#1c1c1c">7. Установить защиту на кронштейны 1,2,3 и 4 болтами М8х20(Д).</text>
<text transform="translate(78.62,2130.34) scale(1.1229,1.0)" font-size="16" fill="#1c1c1c">8. Затянуть все резьбовые соединения с необходимым усилием, использование</text>
<text transform="translate(78.15,2150.48) scale(1.1281,1.0)" font-size="16" fill="#1c1c1c">пневмоинструмента запрещено</text>
<text transform="translate(987.66,1866.70) scale(0.9418,1.0)" font-size="29.5" font-weight="bold" fill="#1c1c1c">Состав изделия:</text>
<rect x="955.4" y="1884" width="619.3" height="45" fill="#ebebeb"/>
<rect x="955.4" y="1882" width="619.3" height="2.2" fill="#1c1c1c"/>
<line x1="1233.5" y1="1841.5" x2="1233.5" y2="2160" stroke="#1a1a1a" stroke-width="1.9" stroke-dasharray="7,5.6"/>
<line x1="1353.2" y1="1841.5" x2="1353.2" y2="2160" stroke="#1a1a1a" stroke-width="1.9" stroke-dasharray="7,5.6"/>
<text transform="translate(1021.81,1915.50) scale(1.0073,1.0)" font-size="27.7" fill="#1c1c1c">Наименование</text>
<text transform="translate(1248.51,1915.50) scale(1.0070,1.0)" font-size="27.7" fill="#1c1c1c">Кол-во</text>
<text transform="translate(1364.41,1915.50) scale(1.0081,1.0)" font-size="27.7" fill="#1c1c1c">Момент затяжки</text>
<text transform="translate(1137.96,1942.70) scale(1.0800,1.0)" font-size="13" fill="#1c1c1c">Болт М6х20</text>
<text transform="translate(1276.61,1942.70) scale(1.0500,1.0)" font-size="13" fill="#1c1c1c">1 шт.</text>
<text transform="translate(1137.96,1958.20) scale(1.0800,1.0)" font-size="13" fill="#1c1c1c">Болт М8х20</text>
<text transform="translate(1272.82,1958.20) scale(1.0500,1.0)" font-size="13" fill="#1c1c1c">10 шт.</text>
<text transform="translate(1130.15,1973.70) scale(1.0800,1.0)" font-size="13" fill="#1c1c1c">Болт М10х20</text>
<text transform="translate(1276.79,1973.70) scale(1.0500,1.0)" font-size="13" fill="#1c1c1c">2 шт.</text>
<text transform="translate(1083.46,1989.20) scale(1.0800,1.0)" font-size="13" fill="#1c1c1c">Гайка закладная М6</text>
<text transform="translate(1276.61,1989.20) scale(1.0500,1.0)" font-size="13" fill="#1c1c1c">1 шт.</text>
<text transform="translate(1110.46,2004.70) scale(1.0800,1.0)" font-size="13" fill="#1c1c1c">Шайба 6 увелич</text>
<text transform="translate(1276.61,2004.70) scale(1.0500,1.0)" font-size="13" fill="#1c1c1c">1 шт.</text>
<text transform="translate(1110.46,2020.20) scale(1.0800,1.0)" font-size="13" fill="#1c1c1c">Шайба 8 увелич</text>
<text transform="translate(1272.82,2020.20) scale(1.0500,1.0)" font-size="13" fill="#1c1c1c">10 шт.</text>
<text transform="translate(1102.66,2035.70) scale(1.0800,1.0)" font-size="13" fill="#1c1c1c">Шайба 10 увелич</text>
<text transform="translate(1276.79,2035.70) scale(1.0500,1.0)" font-size="13" fill="#1c1c1c">2 шт.</text>
<text transform="translate(1176.47,2051.20) scale(1.0800,1.0)" font-size="13" fill="#1c1c1c">Экран</text>
<text transform="translate(1278.51,2051.20) scale(1.0500,1.0)" font-size="13" fill="#1c1c1c">1шт.</text>
<text transform="translate(1131.43,2066.70) scale(1.0800,1.0)" font-size="13" fill="#1c1c1c">Кронштейн 1</text>
<text transform="translate(1278.51,2066.70) scale(1.0500,1.0)" font-size="13" fill="#1c1c1c">1шт.</text>
<text transform="translate(1131.45,2082.20) scale(1.0800,1.0)" font-size="13" fill="#1c1c1c">Кронштейн 2</text>
<text transform="translate(1278.51,2082.20) scale(1.0500,1.0)" font-size="13" fill="#1c1c1c">1шт.</text>
<text transform="translate(1131.36,2097.70) scale(1.0800,1.0)" font-size="13" fill="#1c1c1c">Кронштейн 3</text>
<text transform="translate(1278.51,2097.70) scale(1.0500,1.0)" font-size="13" fill="#1c1c1c">1шт.</text>
<text transform="translate(1131.15,2113.20) scale(1.0800,1.0)" font-size="13" fill="#1c1c1c">Кронштейн 4</text>
<text transform="translate(1278.51,2113.20) scale(1.0500,1.0)" font-size="13" fill="#1c1c1c">1шт.</text>
<text transform="translate(1068.19,2128.70) scale(1.0800,1.0)" font-size="13" fill="#1c1c1c">Хомут-стяжка пластик.</text>
<text transform="translate(1278.51,2128.70) scale(1.0500,1.0)" font-size="13" fill="#1c1c1c">1шт.</text>
<text transform="translate(1452.12,1940.70) scale(1.1200,1.0)" font-size="13" fill="#1c1c1c">9.0 Нм</text>
<text transform="translate(1452.07,1956.20) scale(1.1200,1.0)" font-size="13" fill="#1c1c1c">24.0 Нм</text>
<text transform="translate(1452.47,1971.70) scale(1.1200,1.0)" font-size="13" fill="#1c1c1c">47.0 Нм</text>
<rect x="78.4" y="2179.5" width="1496.3" height="4.3" fill="#1c1c1c"/>
<text transform="translate(77.25,2226.40) scale(1.0052,1.0)" font-size="27.6" fill="#1c1c1c">Производитель вправе вносить изменения в конструкцию защиты.</text>
<text transform="translate(78.87,2259.70) scale(1.0084,1.0)" font-size="27.6" fill="#1c1c1c">Техническая поддержка:</text>
<text transform="translate(407.08,2259.70) scale(1.0478,1.0)" font-size="27.6" font-weight="bold" fill="#1c1c1c">supp@rivalauto.com</text>
</svg></body></html>
